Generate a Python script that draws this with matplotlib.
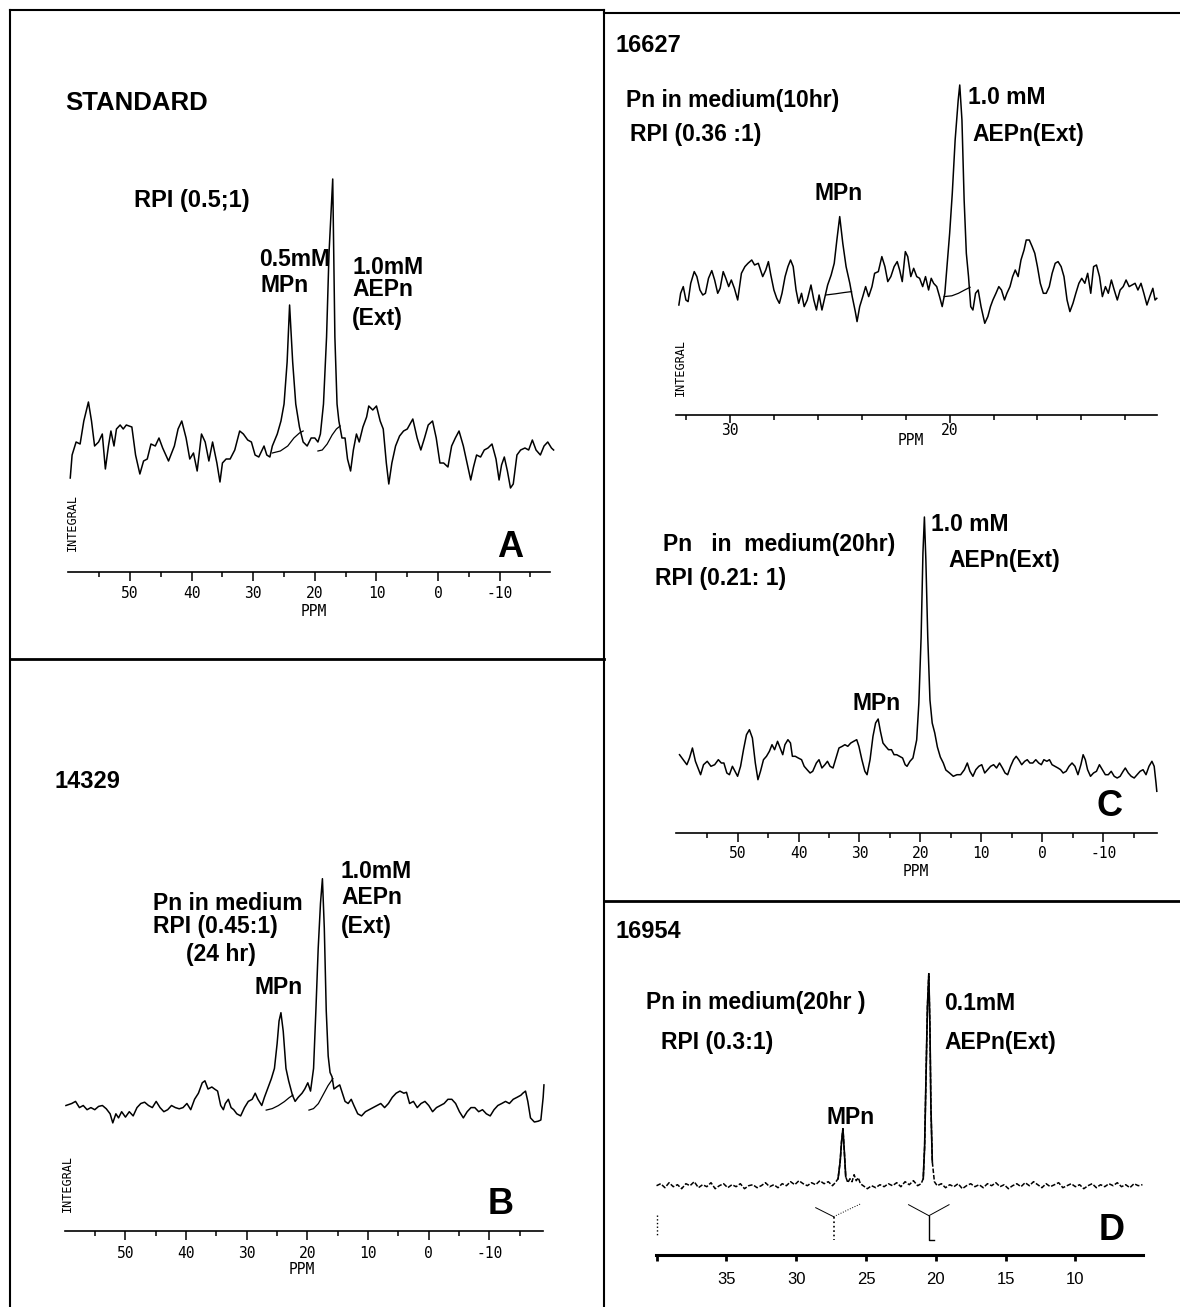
import matplotlib
matplotlib.use("Agg")
import matplotlib.pyplot as plt

W, H = 1180, 1307
LABEL_FONT = "Liberation Sans"
MONO_FONT = "DejaVu Sans Mono"

# spectra as (ppm, signal above baseline)
spec_a = [
    (59.7, -28), (59.4, -5), (58.75, 8), (58.1, 6), (57.5, 29), (56.75, 48), (56.25, 29), (55.75, 4),
    (55.1, 8), (54.5, 16), (54.0, -19), (53.5, 4), (53.1, 19), (52.6, 4), (52.2, 21), (51.6, 25),
    (51.1, 21), (50.6, 25), (49.7, 23), (49.1, -5), (48.4, -24), (47.8, -11), (47.2, -9), (46.6, 6),
    (45.9, 4), (45.3, 12), (44.7, 2), (43.75, -11), (42.8, 4), (42.2, 21), (41.6, 29), (40.9, 12),
    (40.3, -9), (39.7, -3), (39.1, -21), (38.4, 16), (37.8, 8), (37.2, -11), (36.6, 8), (35.9, -13),
    (35.4, -32), (35.0, -13), (34.4, -9), (33.75, -9), (33.0, 0), (32.2, 19), (31.6, 16), (30.9, 10),
    (30.3, 8), (29.7, -5), (29.1, -7), (28.25, 4), (27.8, -5), (27.3, -7), (26.9, 4), (26.1, 16),
    (25.5, 29), (25.0, 46), (24.5, 88), (24.1, 145), (23.6, 88), (23.1, 46), (22.5, 23), (21.9, 8),
    (21.25, 4), (20.6, 12), (20.0, 12), (19.5, 8), (19.1, 16), (18.6, 46), (18.1, 113), (17.7, 197),
    (17.1, 271), (16.75, 113), (16.4, 46), (16.1, 29), (15.6, 12), (15.1, 12), (14.7, -9), (14.2, -21),
    (13.75, 0), (13.25, 16), (12.8, 8), (12.2, 23), (11.6, 33), (11.25, 44), (10.6, 40), (10.0, 44),
    (9.4, 29), (8.9, 21), (8.4, -13), (8.0, -34), (7.5, -13), (6.9, 4), (6.25, 14), (5.6, 19),
    (5.0, 21), (4.1, 31), (3.4, 12), (2.8, 0), (2.2, 12), (1.6, 25), (0.9, 29), (0.3, 12),
    (-0.3, -13), (-0.9, -13), (-1.6, -17), (-2.2, 4), (-2.8, 12), (-3.4, 19), (-4.1, 4), (-4.7, -13),
    (-5.3, -30), (-5.75, -17), (-6.25, -5), (-6.9, -7), (-7.5, 0), (-8.1, 2), (-8.75, 6), (-9.4, -9),
    (-9.9, -30), (-10.3, -15), (-10.75, -7), (-11.25, -21), (-11.75, -38), (-12.2, -34), (-12.8, -5),
    (-13.4, 0), (-14.1, 2), (-14.7, 0), (-15.3, 10), (-15.9, 0), (-16.6, -5), (-17.2, 4), (-17.8, 8),
    (-18.4, 2), (-18.75, 0),
]
integ_a1 = [(26.9, -3), (25.6, -1), (24.4, 4), (23.4, 12), (22.5, 17), (21.9, 19)]
integ_a2 = [(19.5, -1), (18.8, 0), (18.0, 6), (17.2, 15), (16.5, 21), (15.9, 24)]

spec_b = [
    (59.81, 2.1), (58.86, 4.1), (58.23, 6.2), (57.59, 0), (56.96, 2.1), (56.33, -2.1), (55.70, 0),
    (55.06, -2.1), (54.43, 1.2), (53.80, 2.1), (53.16, -1.2), (52.53, -6.2), (52.09, -15.3), (51.58, -6.2),
    (51.14, -10.3), (50.63, -4.1), (50.0, -9.5), (49.37, -4.1), (48.73, -8.3), (48.10, 0), (47.47, 4.1),
    (46.84, 5.4), (46.20, 2.1), (45.57, 0), (44.94, 6.2), (44.30, 0), (43.67, -4.1), (43.04, -2.1),
    (42.41, 2.1), (41.77, 0), (41.14, -1.2), (40.51, 0), (39.87, 4.1), (39.24, -2.1), (38.61, 8.3),
    (37.97, 14.4), (37.34, 24.8), (36.90, 26.8), (36.39, 18.6), (35.76, 20.6), (35.32, 18.6), (34.81, 16.5),
    (34.30, 2.1), (33.86, -2.1), (33.54, 4.1), (33.04, 8.3), (32.59, 0), (32.15, -2.1), (31.65, -6.2),
    (31.01, -8.3), (30.38, 0), (29.75, 6.2), (29.11, 8.3), (28.61, 14.4), (28.16, 8.3), (27.53, 2.1),
    (27.09, 10.3), (26.58, 18.6), (25.95, 28.9), (25.44, 39.2), (25.00, 63.9), (24.68, 86.6), (24.37, 94.9),
    (23.99, 76.3), (23.54, 39.2), (23.10, 26.8), (22.47, 12.4), (22.03, 6.2), (21.52, 10.3), (20.89, 14.4),
    (20.44, 18.6), (19.94, 24.8), (19.49, 16.5), (18.99, 39.2), (18.61, 96.9), (18.23, 158.8), (17.85, 204.2),
    (17.53, 228.9), (17.22, 179.4), (16.90, 96.9), (16.58, 51.6), (16.27, 35.1), (15.95, 30.9), (15.63, 18.6),
    (15.19, 20.6), (14.68, 22.7), (14.24, 14.4), (13.80, 6.2), (13.29, 4.1), (12.78, 8.3), (12.34, 2.1),
    (11.71, -6.2), (11.08, -8.3), (10.44, -4.1), (9.81, -2.1), (9.18, 0), (8.54, 2.1), (7.91, 4.1),
    (7.28, 0), (6.65, 4.1), (6.01, 10.3), (5.38, 14.4), (4.75, 16.5), (4.11, 14.4), (3.67, 15.3),
    (3.16, 4.1), (2.53, 6.2), (1.90, 0), (1.27, 4.1), (0.63, 6.2), (0.0, 2.1), (-0.63, -4.1),
    (-1.27, 0), (-1.90, 2.1), (-2.53, 4.1), (-3.16, 8.3), (-3.80, 8.3), (-4.43, 4.1), (-5.06, -4.1),
    (-5.70, -10.3), (-6.33, -4.1), (-6.96, 0), (-7.59, 0), (-8.23, -4.1), (-8.86, -2.1), (-9.49, -6.2),
    (-10.13, -8.3), (-10.76, -2.1), (-11.39, 2.1), (-12.03, 4.1), (-12.66, 6.2), (-13.29, 4.1), (-13.92, 8.3),
    (-14.56, 10.3), (-15.19, 12.4), (-15.51, 14.4), (-15.95, 16.5), (-16.33, 6.2), (-16.77, -10.3),
    (-17.41, -14.4), (-18.04, -13.6), (-18.48, -12.4), (-18.86, 10.3), (-18.99, 22.7),
]
integ_b1 = [(26.8, -2.5), (25.8, -1), (24.8, 2), (23.8, 6), (23.0, 10), (22.4, 12.5)]
integ_b2 = [(19.75, -2.5), (19.0, -1), (18.2, 4), (17.4, 13), (16.6, 22), (15.8, 29)]

spec_16627 = [
    (32.34, -11.7), (32.26, 0), (32.14, 6.7), (32.02, -6.7), (31.92, -8.3), (31.80, 10), (31.64, 21.7),
    (31.52, 16.7), (31.38, 3.3), (31.25, -1.7), (31.13, 0), (30.99, 15), (30.84, 22.7), (30.71, 13.3),
    (30.57, 0), (30.46, 5), (30.32, 21.7), (30.20, 15), (30.07, 6.7), (29.95, 13.3), (29.81, 5),
    (29.66, -6.7), (29.49, 20), (29.33, 26.7), (29.19, 30), (29.02, 33.3), (28.89, 28.3), (28.72, 30),
    (28.52, 16.7), (28.38, 23.3), (28.26, 31.7), (28.15, 18.3), (28.01, 3.3), (27.88, -5), (27.76, -10),
    (27.64, 0), (27.50, 16.7), (27.37, 26.7), (27.25, 33.3), (27.13, 26.7), (27.0, 3.3), (26.88, -10),
    (26.75, 0), (26.63, -13.3), (26.49, -6.7), (26.32, 8.3), (26.19, -6.7), (26.07, -16.7), (25.95, -1.7),
    (25.82, -16.7), (25.68, -3.3), (25.56, 8.3), (25.40, 18.3), (25.26, 30), (25.14, 53.3), (25.01, 76.7),
    (24.87, 50), (24.72, 26.7), (24.55, 10), (24.44, -3.3), (24.30, -18.3), (24.22, -28.3), (24.10, -13.3),
    (23.96, -3.3), (23.83, 6.7), (23.69, -3.3), (23.54, 6.7), (23.42, 20), (23.25, 21.7), (23.09, 36.7),
    (22.95, 26.7), (22.82, 11.7), (22.68, 16.7), (22.53, 26.7), (22.39, 31.7), (22.28, 23.3), (22.16, 11.7),
    (22.02, 41.7), (21.91, 36.7), (21.77, 16.7), (21.64, 25), (21.50, 16.7), (21.37, 15), (21.23, 6.7),
    (21.10, 16.7), (20.96, 3.3), (20.84, 15), (20.73, 10), (20.59, 6.7), (20.46, -3.3), (20.34, -13.3),
    (20.22, 0), (20.12, 26.7), (20.0, 60), (19.88, 100), (19.75, 153.3), (19.61, 193.3), (19.54, 208.3),
    (19.44, 173.3), (19.34, 93.3), (19.24, 40), (19.14, 16.7), (19.04, -13.3), (18.94, -16.7), (18.82, 0),
    (18.70, 3.3), (18.57, -13.3), (18.40, -30), (18.26, -23.3), (18.14, -13.3), (18.03, -6.7), (17.89, 0),
    (17.76, 6.7), (17.64, 3.3), (17.50, -6.7), (17.39, 0), (17.25, 6.7), (17.13, 16.7), (17.01, 23.3),
    (16.88, 16.7), (16.75, 33.3), (16.61, 43.3), (16.51, 53.3), (16.37, 53.3), (16.24, 46.7), (16.12, 40),
    (16.0, 26.7), (15.87, 10), (15.73, 0), (15.60, 0), (15.46, 6.7), (15.33, 20), (15.19, 30),
    (15.06, 31.7), (14.92, 26.7), (14.79, 16.7), (14.65, -6.7), (14.52, -18.3), (14.38, -10), (14.25, 0),
    (14.11, 10), (13.98, 15), (13.84, 10), (13.71, 20), (13.57, 0), (13.44, 26.7), (13.31, 28.3),
    (13.17, 16.7), (13.04, -3.3), (12.90, 6.7), (12.77, 0), (12.63, 13.3), (12.50, 3.3), (12.36, -6.7),
    (12.23, 3.3), (12.09, 6.7), (11.96, 13.3), (11.82, 6.7), (11.69, 8.3), (11.55, 10), (11.42, 3.3),
    (11.28, 10), (11.15, 0), (11.01, -11.7), (10.88, -3.3), (10.74, 5), (10.64, -6.7), (10.56, -5),
]
integ_16627_1 = [(25.65, -1.7), (25.2, -0.5), (24.8, 0.8), (24.47, 1.7)]
integ_16627_2 = [(20.25, -3.3), (19.9, -2.5), (19.6, 0), (19.3, 3.5), (19.07, 6)]

spec_c = [
    (59.53, 13.3), (58.93, 8.3), (58.32, 3.3), (57.89, 10), (57.41, 20), (56.92, 6.7), (56.50, 0),
    (56.07, -6.7), (55.59, 3.3), (54.98, 6.7), (54.37, 1.7), (53.76, 3.3), (53.16, 8.3), (52.67, 5),
    (52.25, 5), (51.76, -5), (51.34, -6.7), (50.85, 1.7), (50.43, -3.3), (50.0, -8.3), (49.51, 1.7),
    (49.03, 18.3), (48.54, 33.3), (48.06, 38.3), (47.57, 30), (47.09, 5), (46.66, -11.7), (46.24, -3.3),
    (45.75, 8.3), (45.26, 11.7), (44.78, 16.7), (44.35, 23.3), (43.93, 18.3), (43.44, 26.7), (43.02, 20),
    (42.59, 13.3), (42.23, 23.3), (41.74, 28.3), (41.32, 25), (41.01, 11.7), (40.53, 11.7), (40.04, 10),
    (39.50, 8.3), (39.07, 1.7), (38.59, -1.7), (38.10, -5), (37.67, -3.3), (37.07, 5), (36.64, 8.3),
    (36.16, 0), (35.67, 3.3), (35.25, 6.7), (34.82, 1.7), (34.34, 0), (33.85, 10), (33.36, 20),
    (32.82, 21.7), (32.39, 23.3), (31.91, 21.7), (31.42, 25), (30.94, 26.7), (30.45, 28.3), (30.09, 21.7),
    (29.60, 8.3), (29.11, -3.3), (28.75, -6.7), (28.26, 8.3), (27.78, 31.7), (27.35, 45), (26.93, 49),
    (26.56, 36.7), (26.14, 25), (25.71, 21.7), (25.23, 18.3), (24.74, 18.3), (24.32, 13.3), (23.89, 13.3),
    (23.41, 11.7), (22.92, 10), (22.50, 3.3), (22.19, 1.7), (21.71, 6.7), (21.22, 10), (20.61, 28),
    (20.25, 65), (19.88, 131), (19.58, 215), (19.34, 251), (19.10, 208), (18.79, 131), (18.43, 68),
    (18.06, 45), (17.64, 35), (17.21, 21), (16.73, 11), (16.24, 5), (15.82, -2), (15.21, -5),
    (14.60, -8.3), (13.99, -6.7), (13.39, -6.7), (12.78, -1.7), (12.30, 5), (11.87, -3.3), (11.38, -8.3),
    (10.90, -1.7), (10.41, 1.7), (9.93, 3.3), (9.44, -5), (8.96, -1.7), (8.47, 1.7), (7.98, 3.3),
    (7.50, 0), (7.01, 5), (6.53, 0), (6.10, -5), (5.68, -6.7), (5.19, 1.7), (4.71, 8.3),
    (4.28, 11.7), (3.86, 8.3), (3.37, 3.3), (2.88, 6.7), (2.46, 8.3), (2.03, 5), (1.55, 5),
    (1.06, 8.3), (0.58, 5), (0.15, 3.3), (-0.27, 8.3), (-0.76, 6.7), (-1.18, 8.3), (-1.61, 3.3),
    (-2.09, 1.7), (-2.58, 0), (-3.01, -1.7), (-3.43, -5), (-3.92, -3.3), (-4.40, 1.7), (-4.89, 5),
    (-5.37, 1.7), (-5.86, -6.7), (-6.34, 3.3), (-6.71, 13.3), (-7.07, 8.3), (-7.44, -1.7), (-7.92, -8.3),
    (-8.41, -5), (-8.90, -3.3), (-9.38, 3.3), (-9.87, -1.7), (-10.35, -6.7), (-10.84, -6.7), (-11.32, -3.3),
    (-11.81, -8.3), (-12.30, -10), (-12.78, -8.3), (-13.27, -3.3), (-13.63, 0), (-14.12, -5), (-14.60, -8.3),
    (-15.09, -10), (-15.57, -6.7), (-16.06, -3.3), (-16.54, -1.7), (-17.03, -6.7), (-17.52, 1.7),
    (-18.00, 6.7), (-18.37, 1.7), (-18.67, -15), (-18.80, -23.3),
]

spec_d = [
    (40.0, 1), (39.7, 3), (39.4, -1), (39.1, 4), (38.8, 0), (38.5, 2), (38.2, -2), (37.9, 3), (37.6, 1),
    (37.3, 5), (37.0, -1), (36.7, 2), (36.4, 0), (36.1, 4), (35.8, -2), (35.5, 1), (35.2, 3), (34.9, -1),
    (34.6, 2), (34.3, 0), (34.0, 3), (33.7, -2), (33.4, 1), (33.1, 2), (32.8, -1), (32.5, 1), (32.2, 4),
    (31.9, 0), (31.6, 2), (31.3, -1), (31.0, 3), (30.7, 1), (30.4, 5), (30.1, 2), (29.8, 6), (29.5, 3),
    (29.2, 1), (28.9, 4), (28.6, 2), (28.3, 6), (28.0, 3), (27.7, 5), (27.4, 1), (27.2, 4), (27.0, 8),
    (26.85, 25), (26.75, 45), (26.65, 58), (26.55, 35), (26.45, 10), (26.3, 4), (26.15, 8), (26.0, 5),
    (25.85, 12), (25.7, 6), (25.55, 9), (25.4, 3), (25.2, 1), (24.9, -2), (24.6, 1), (24.3, -1), (24.0, 2),
    (23.7, 0), (23.4, 3), (23.1, 1), (22.8, 4), (22.5, 0), (22.2, 5), (21.9, 2), (21.6, 6), (21.3, 1),
    (21.05, 3), (20.9, 8), (20.8, 40), (20.7, 110), (20.6, 180), (20.5, 213), (20.42, 160), (20.35, 80),
    (20.25, 25), (20.1, 5), (19.9, 1), (19.6, 3), (19.3, -1), (19.0, 2), (18.7, 0), (18.4, 3), (18.1, -2),
    (17.8, 1), (17.5, 3), (17.2, 0), (16.9, 2), (16.6, -1), (16.3, 3), (16.0, 1), (15.7, 4), (15.4, 0),
    (15.1, 2), (14.8, -2), (14.5, 1), (14.2, 3), (13.9, 0), (13.6, 4), (13.3, 1), (13.0, 5), (12.7, 2),
    (12.4, -1), (12.1, 3), (11.8, 0), (11.5, 2), (11.2, 4), (10.9, -1), (10.6, 1), (10.3, 3), (10.0, 0),
    (9.7, 2), (9.4, -2), (9.1, 1), (8.8, 3), (8.5, -1), (8.2, 2), (7.9, 0), (7.6, 3), (7.3, 1), (7.0, 4),
    (6.7, 0), (6.4, 2), (6.1, -1), (5.8, 3), (5.5, 1), (5.2, 2),
]
# integral step markers drawn below the D baseline
d_mark_start = [(39.94, -28), (39.94, -48)]
d_mark_mpn = [(27.32, -30), (27.32, -53)]
d_mark_aepn = [(20.49, -29), (20.49, -53), (20.1, -53)]
d_v_mpn = [(28.6, -21), (27.32, -30), (25.36, -17)]
d_v_aepn = [(21.95, -18), (20.49, -29), (19.05, -18)]

abc_major = [50, 40, 30, 20, 10, 0, -10]
abc_minor = [55, 45, 35, 25, 15, 5, -5, -15]
e_major = [30, 20]
e_minor = [32, 28, 26, 24, 22, 18, 16, 14, 12]
d_major = [40, 35, 30, 25, 20, 15, 10]
d_labels = ["", "35", "30", "25", "20", "15", "10"]

fig = plt.figure(figsize=(W / 100, H / 100), dpi=100)


def label(x, y, s, size=16.5, weight="bold", family=LABEL_FONT, **kw):
    kw.setdefault("ha", "left")
    kw.setdefault("va", "center")
    fig.text(x / W, 1 - y / H, s, fontsize=size, fontweight=weight, family=family, **kw)


def rule(x1, y1, x2, y2, lw=1.5):
    fig.add_artist(plt.Line2D([x1 / W, x2 / W], [1 - y1 / H, 1 - y2 / H],
                              transform=fig.transFigure, color="black", lw=lw))


def spectrum_axes(left, right, axis_y, base_y, top_y, xlim):
    ax = fig.add_axes([left / W, 1 - axis_y / H, (right - left) / W, (axis_y - top_y) / H])
    ax.set_xlim(*xlim)
    ax.set_ylim(-(axis_y - base_y), base_y - top_y)
    ax.patch.set_visible(False)
    for side in ("left", "right", "top"):
        ax.spines[side].set_visible(False)
    ax.spines["bottom"].set_linewidth(1.2)
    ax.set_yticks([])
    return ax


def ppm_ticks(ax, major, minor, pad, size=10.5, majlen=6.5):
    ax.set_xticks(major)
    ax.set_xticklabels([str(v) for v in major], family=MONO_FONT, fontsize=size)
    ax.set_xticks(minor, minor=True)
    ax.tick_params(axis="x", which="major", length=majlen, width=1.1, pad=pad)
    ax.tick_params(axis="x", which="minor", length=3.5, width=1.1)


def trace(ax, pts, lw=1.1, **kw):
    x, y = zip(*pts)
    ax.plot(x, y, color="black", lw=lw, clip_on=False, **kw)


# frame lines
rule(10, 10, 604, 10)
rule(10, 10, 10, 1307)
rule(10, 659, 604, 659, lw=2)
rule(604, 10, 604, 1307)
rule(604, 13, 1180, 13)
rule(604, 901, 1180, 901, lw=2)

# ---- A: standard ----
ax = spectrum_axes(68.4, 549.6, 572, 450, 150, (60, -18.1))
ppm_ticks(ax, abc_major, abc_minor, pad=3.5)
trace(ax, spec_a)
trace(ax, integ_a1, lw=0.9)
trace(ax, integ_a2, lw=0.9)
label(65, 103, "STANDARD", size=18.5)
label(134, 200, "RPI (0.5;1)", size=17)
label(259, 259, "0.5mM")
label(261, 286, "MPn")
label(352, 267, "1.0mM")
label(352, 290, "AEPn")
label(352, 318, "(Ext)")
label(510, 547, "A", size=26, ha="center")
label(72, 523, "INTEGRAL", size=8.5, weight="normal", family=MONO_FONT, rotation=90, ha="center")
label(314, 612, "PPM", size=10.5, weight="normal", family=MONO_FONT, ha="center")

# ---- B: 14329 ----
ax = spectrum_axes(64.8, 542.8, 1231, 1107.6, 860, (60, -18.8))
ppm_ticks(ax, abc_major, abc_minor, pad=4)
trace(ax, spec_b)
trace(ax, integ_b1, lw=0.9)
trace(ax, integ_b2, lw=0.9)
label(55, 782, "14329", size=17)
label(153, 903, "Pn in medium")
label(153, 926, "RPI (0.45:1)")
label(186, 955, "(24 hr)")
label(254, 988, "MPn")
label(341, 871, "1.0mM")
label(341, 898, "AEPn")
label(341, 926, "(Ext)")
label(501, 1205, "B", size=26, ha="center")
label(67, 1183, "INTEGRAL", size=8.5, weight="normal", family=MONO_FONT, rotation=90, ha="center")
label(302, 1270, "PPM", size=10.5, weight="normal", family=MONO_FONT, ha="center")

# ---- 16627, 10 hr ----
ax = spectrum_axes(675.8, 1156.8, 415, 293.3, 60, (32.48, 10.56))
ppm_ticks(ax, e_major, e_minor, pad=0.5, majlen=5.5)
trace(ax, spec_16627)
trace(ax, integ_16627_1, lw=0.9)
trace(ax, integ_16627_2, lw=0.9)
label(615, 45, "16627", size=17)
label(626, 100, "Pn in medium(10hr)")
label(630, 135, "RPI (0.36 :1)")
label(815, 193, "MPn")
label(968, 97, "1.0 mM")
label(972, 135, "AEPn(Ext)")
label(680, 368, "INTEGRAL", size=8.5, weight="normal", family=MONO_FONT, rotation=90, ha="center")
label(911, 441, "PPM", size=10.5, weight="normal", family=MONO_FONT, ha="center")

# ---- C: 16627, 20 hr ----
ax = spectrum_axes(675.8, 1156.8, 833, 768, 500, (60.14, -18.8))
ppm_ticks(ax, abc_major, abc_minor, pad=3)
trace(ax, spec_c)
label(663, 545, "Pn   in  medium(20hr)")
label(655, 578, "RPI (0.21: 1)")
label(931, 525, "1.0 mM")
label(948, 560, "AEPn(Ext)")
label(853, 703, "MPn")
label(1110, 807, "C", size=26, ha="center")
label(916, 872, "PPM", size=10.5, weight="normal", family=MONO_FONT, ha="center")

# ---- D: 16954 ----
ax = spectrum_axes(655.7, 1143, 1255, 1186.7, 960, (40.06, 5.16))
ax.spines["bottom"].set_linewidth(2.2)
ax.set_xticks(d_major)
ax.set_xticklabels(d_labels, family=LABEL_FONT, fontsize=12)
ax.tick_params(axis="x", length=4, width=2, pad=8)
trace(ax, spec_d, lw=1.1, dashes=(3, 1.2))
peaks = [p for p in spec_d if 26.4 <= p[0] <= 27.05 or 20.2 <= p[0] <= 20.95]
trace(ax, [p for p in peaks if p[0] > 25], lw=1.2)
trace(ax, [p for p in peaks if p[0] < 25], lw=1.2)
trace(ax, d_mark_start, lw=1, ls=":")
trace(ax, d_mark_mpn, lw=1.2, ls=":")
trace(ax, d_mark_aepn, lw=1)
trace(ax, d_v_mpn[:2], lw=0.7)
trace(ax, d_v_mpn[1:], lw=0.7, ls=":")
trace(ax, d_v_aepn, lw=0.7)
label(615, 932, "16954", size=17)
label(646, 1003, "Pn in medium(20hr )")
label(661, 1043, "RPI (0.3:1)")
label(944, 1003, "0.1mM")
label(944, 1042, "AEPn(Ext)")
label(826, 1117, "MPn")
label(1112, 1230, "D", size=26, ha="center")

fig.savefig("out.png", dpi=100)
